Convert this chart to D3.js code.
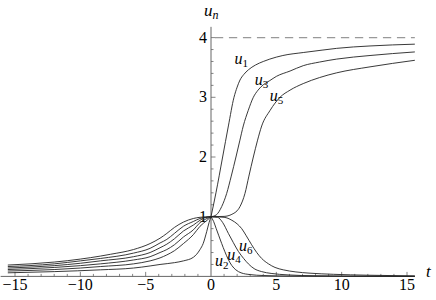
<!DOCTYPE html>
<html>
<head>
<meta charset="utf-8">
<script src="https://cdn.jsdelivr.net/npm/d3@7"></script>
<style>
  body { margin: 0; background: #fff; }
  svg text { font-family: 'Liberation Serif', serif; }
</style>
</head>
<body>
<svg id="chart" width="436" height="300"></svg>
<script>
// curves, [t, u] pairs
var u1Right = [[0,1],[0.38,1.4],[0.89,2.0],[1.33,2.52],[1.76,3.0],[2.0,3.17],[2.22,3.29],[2.5,3.38],[2.86,3.46],[3.4,3.54],[4.0,3.6],[4.5,3.64],[5.5,3.7],[7.06,3.75],[8.5,3.79],[9.62,3.82],[12.17,3.86],[15.6,3.89]];
var u3Right = [[0,1],[0.4,1.03],[0.82,1.17],[1.2,1.39],[1.55,1.68],[1.91,2.0],[2.2,2.27],[2.47,2.52],[2.85,2.78],[3.24,3.0],[3.6,3.12],[4.0,3.21],[4.5,3.28],[5.0,3.35],[6.05,3.44],[7.06,3.53],[8.3,3.59],[9.62,3.64],[12.17,3.7],[15.6,3.76]];
var u5Right = [[0,1],[1.0,1.005],[1.6,1.04],[2.22,1.17],[2.6,1.39],[2.9,1.68],[3.24,2.0],[3.55,2.27],[3.88,2.52],[4.52,2.78],[5.28,3.0],[6.05,3.12],[7.06,3.23],[8.3,3.33],[9.62,3.41],[12.17,3.51],[15.6,3.62]];
var u2Right = [[0,1],[0.2,0.92],[0.4,0.8],[0.6,0.68],[0.82,0.55],[1.05,0.42],[1.33,0.28],[1.6,0.18],[1.9,0.11],[2.3,0.06],[3,0.03],[4,0.015],[6,0.006],[10,0.002],[15.6,0.001]];
var u4Right = [[0,1],[0.5,0.99],[0.9,0.9],[1.33,0.72],[1.7,0.57],[2.09,0.42],[2.5,0.3],[2.86,0.21],[3.3,0.13],[3.88,0.08],[4.6,0.05],[5.9,0.025],[8,0.01],[11,0.004],[15.6,0.001]];
var u6Right = [[0,1],[1.0,0.99],[1.6,0.94],[2.0,0.88],[2.35,0.8],[2.7,0.68],[3.11,0.53],[3.5,0.4],[3.88,0.3],[4.4,0.21],[4.9,0.15],[5.53,0.11],[6.5,0.075],[7.5,0.055],[9.36,0.035],[12,0.02],[15.6,0.008]];

var u1Left = [[0,1],[-0.15,0.9],[-0.33,0.75],[-0.6,0.55],[-0.84,0.45],[-1.35,0.32],[-2.11,0.26],[-2.8,0.23],[-3.9,0.2],[-4.66,0.175],[-5.93,0.14],[-8.47,0.11],[-12,0.08],[-15.55,0.06]];
var u2Left = [[0,1],[-0.3,0.94],[-0.84,0.84],[-1.35,0.70],[-2.11,0.55],[-2.8,0.43],[-3.38,0.36],[-3.9,0.31],[-4.66,0.26],[-5.93,0.21],[-8.47,0.165],[-10,0.14],[-12,0.115],[-15.55,0.09]];
var u3Left = [[0,1],[-0.4,0.96],[-0.84,0.90],[-1.35,0.78],[-2.11,0.66],[-2.8,0.53],[-3.38,0.45],[-3.9,0.40],[-4.66,0.33],[-5.93,0.275],[-8.47,0.21],[-10,0.18],[-12,0.15],[-15.55,0.115]];
var u4Left = [[0,1],[-0.5,0.98],[-0.84,0.94],[-1.35,0.86],[-2.11,0.76],[-2.8,0.63],[-3.38,0.54],[-3.9,0.48],[-4.66,0.40],[-5.93,0.33],[-8.47,0.26],[-10,0.22],[-12,0.18],[-15.55,0.14]];
var u5Left = [[0,1],[-0.84,0.97],[-1.35,0.92],[-2.11,0.84],[-2.8,0.72],[-3.38,0.62],[-3.9,0.56],[-4.66,0.47],[-5.93,0.39],[-8.47,0.30],[-10,0.26],[-12,0.21],[-15.55,0.165]];
var u6Left = [[0,1],[-0.84,0.99],[-1.35,0.97],[-2.11,0.91],[-2.8,0.82],[-3.38,0.72],[-3.9,0.64],[-4.66,0.55],[-5.93,0.45],[-7.7,0.37],[-8.47,0.34],[-10,0.29],[-12,0.24],[-15.55,0.19]];

var asymptote = 4;
var xTicks = [-15, -10, -5, 0, 5, 10, 15];
var yTicks = [1, 2, 3, 4];
var curveLabels = [
  {n: "1", t: 1.8, u: 3.55},
  {n: "3", t: 3.35, u: 3.2},
  {n: "5", t: 4.5, u: 2.93},
  {n: "6", t: 2.15, u: 0.42},
  {n: "4", t: 1.25, u: 0.28},
  {n: "2", t: 0.3, u: 0.17}
];

var svg = d3.select("#chart");

var x = d3.scaleLinear().domain([-15, 15]).range([15, 407]);
var y = d3.scaleLinear().domain([0, 4]).range([276.4, 37.6]);

var axisColor = "#666";

// axes
svg.append("line")
  .attr("x1", x(-16.1)).attr("x2", x(15.6))
  .attr("y1", y(0)).attr("y2", y(0))
  .style("stroke", axisColor).style("stroke-width", 1);
svg.append("line")
  .attr("x1", x(0)).attr("x2", x(0))
  .attr("y1", y(0)).attr("y2", y(4.18))
  .style("stroke", axisColor).style("stroke-width", 1);

// x ticks, major every 5, minor every 1
d3.range(-15, 16, 1).forEach(function(t) {
  if (t === 0) return;
  var major = t % 5 === 0;
  svg.append("line")
    .attr("x1", x(t)).attr("x2", x(t))
    .attr("y1", y(0)).attr("y2", y(0) - (major ? 4.5 : 2.5))
    .style("stroke", axisColor).style("stroke-width", 0.8);
});
// y ticks, major every 1, minor every 0.2
d3.range(1, 21).forEach(function(i) {
  var v = i * 0.2;
  var major = i % 5 === 0;
  svg.append("line")
    .attr("x1", x(0)).attr("x2", x(0) + (major ? 4.5 : 2.5))
    .attr("y1", y(v)).attr("y2", y(v))
    .style("stroke", axisColor).style("stroke-width", 0.8);
});

svg.append("g").selectAll("text")
  .data(xTicks)
  .enter().append("text")
  .attr("x", d => x(d))
  .attr("y", 290)
  .attr("text-anchor", "middle")
  .style("font-family", "'Liberation Serif', serif")
  .style("font-size", "16px")
  .text(d => d < 0 ? "\u2212" + Math.abs(d) : d);

svg.append("g").selectAll("text")
  .data(yTicks)
  .enter().append("text")
  .attr("x", x(0) - 4)
  .attr("y", d => y(d) + 5)
  .attr("text-anchor", "end")
  .style("font-family", "'Liberation Serif', serif")
  .style("font-size", "16px")
  .text(d => d);

// dashed asymptote
svg.append("line")
  .attr("x1", x(0.3)).attr("x2", x(15.6))
  .attr("y1", y(asymptote)).attr("y2", y(asymptote))
  .style("stroke", "#999").style("stroke-width", 1.1)
  .style("stroke-dasharray", "8.3,5.7");

var line = d3.line()
  .x(d => x(d[0]))
  .y(d => y(d[1]))
  .curve(d3.curveMonotoneX);

var curves = [u1Right, u2Right, u3Right, u4Right, u5Right, u6Right,
              u1Left, u2Left, u3Left, u4Left, u5Left, u6Left];

svg.append("g").selectAll("path")
  .data(curves)
  .enter().append("path")
  .attr("d", d => line(d.slice().sort((a, b) => a[0] - b[0])))
  .style("fill", "none")
  .style("stroke", "#222")
  .style("stroke-width", 0.9);

// curve labels
var lab = svg.append("g").selectAll("text")
  .data(curveLabels)
  .enter().append("text")
  .attr("x", d => x(d.t))
  .attr("y", d => y(d.u))
  .style("font-family", "'Liberation Serif', serif")
  .style("font-size", "16px");
lab.append("tspan").style("font-style", "italic").text("u");
lab.append("tspan").attr("dy", 3).style("font-size", "11px").text(d => d.n);

// axis titles
var yt = svg.append("text").attr("x", 204).attr("y", 16)
  .style("font-family", "'Liberation Serif', serif").style("font-size", "17px");
yt.append("tspan").style("font-style", "italic").text("u");
yt.append("tspan").attr("dy", 3).style("font-size", "12px").style("font-style", "italic").text("n");

svg.append("text")
  .attr("x", 426).attr("y", 277)
  .style("font-family", "'Liberation Serif', serif")
  .style("font-size", "17px").style("font-style", "italic")
  .text("t");
</script>
</body>
</html>
